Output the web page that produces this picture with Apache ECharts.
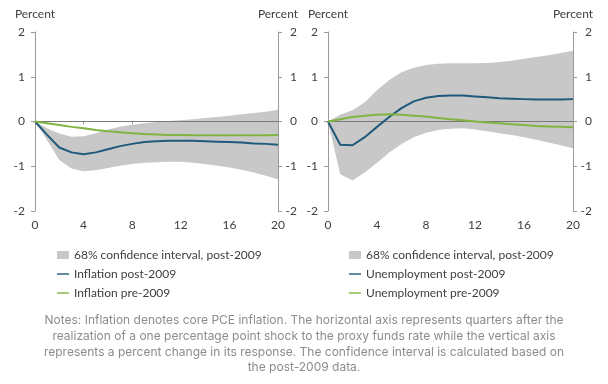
<!DOCTYPE html>
<html>
<head>
<meta charset="utf-8">
<script src="https://cdn.jsdelivr.net/npm/echarts@6/dist/echarts.min.js"></script>
<style>
html,body{margin:0;padding:0;background:#fff;}
#c{width:608px;height:384px;}
</style>
</head>
<body>
<div id="c"></div>
<script>
// Quarters after shock
var quarters = [0,1,2,3,4,5,6,7,8,9,10,11,12,13,14,15,16,17,18,19,20];
var xTicks = [0,4,8,12,16,20];
var yTicks = [-2,-1,0,1,2];

// Left panel: inflation
var infPost  = [0,-0.30,-0.58,-0.69,-0.73,-0.69,-0.62,-0.55,-0.50,-0.46,-0.44,-0.43,-0.43,-0.43,-0.44,-0.45,-0.46,-0.47,-0.49,-0.50,-0.52];
var infPre   = [0,-0.04,-0.08,-0.12,-0.15,-0.19,-0.22,-0.24,-0.26,-0.28,-0.29,-0.30,-0.30,-0.31,-0.31,-0.31,-0.31,-0.31,-0.31,-0.31,-0.30];
var infUpper = [0,-0.15,-0.27,-0.34,-0.33,-0.26,-0.18,-0.12,-0.07,-0.04,-0.01,0.01,0.03,0.05,0.08,0.10,0.13,0.16,0.19,0.22,0.26];
var infLower = [0,-0.42,-0.86,-1.05,-1.11,-1.09,-1.04,-0.99,-0.95,-0.92,-0.91,-0.90,-0.90,-0.92,-0.95,-0.99,-1.03,-1.08,-1.14,-1.21,-1.29];

// Right panel: unemployment
var unPost  = [0,-0.52,-0.53,-0.35,-0.12,0.10,0.30,0.45,0.53,0.57,0.58,0.58,0.56,0.54,0.52,0.51,0.50,0.49,0.49,0.49,0.50];
var unPre   = [0,0.05,0.10,0.13,0.15,0.16,0.15,0.13,0.11,0.08,0.05,0.03,0.00,-0.02,-0.04,-0.06,-0.08,-0.10,-0.11,-0.12,-0.13];
var unUpper = [0,0.15,0.25,0.43,0.70,0.93,1.10,1.20,1.26,1.29,1.30,1.30,1.30,1.31,1.33,1.36,1.40,1.44,1.48,1.53,1.58];
var unLower = [0,-1.18,-1.32,-1.14,-0.92,-0.69,-0.50,-0.35,-0.25,-0.19,-0.16,-0.15,-0.18,-0.22,-0.26,-0.30,-0.35,-0.41,-0.47,-0.53,-0.60];

var ciName = '68% confidence interval, post-2009';
var leftNames = [ciName, 'Inflation post-2009', 'Inflation pre-2009'];
var rightNames = [ciName, 'Unemployment post-2009', 'Unemployment pre-2009'];
var axisTitle = 'Percent';
var notes = [
  'Notes: Inflation denotes core PCE inflation. The horizontal axis represents quarters after the',
  'realization of a one percentage point shock to the proxy funds rate while the vertical axis',
  'represents a percent change in its response. The confidence interval is calculated based on',
  'the post-2009 data.'
];

var BLUE = '#1f5a7c', GREEN = '#80b441', BAND = '#c8c8c8', AXIS = '#9a9a9a', TXT = '#404040';
var FONT = 'Lato';
var LINE_ICON = 'path://M0,0 L0,0 M0,3.3 L12,3.3 L12,4.7 L0,4.7 Z M12,8 L12,8';

function pairs(ys){ return quarters.map(function(q,i){ return [q, ys[i]]; }); }
function bandData(lo, hi){ return quarters.map(function(q,i){ return [q, lo[i], hi[i]]; }); }

function xAxis(gi){
  return {
    type:'value', gridIndex:gi, min:0, max:20, interval:4,
    axisLine:{show:true, lineStyle:{color:AXIS, width:1}},
    axisTick:{show:true, length:3, lineStyle:{color:AXIS}},
    axisLabel:{color:TXT, fontFamily:FONT, fontSize:12, margin:8},
    splitLine:{show:false}
  };
}
function yAxis(gi, pos){
  var right = pos === 'right';
  return {
    type:'value', gridIndex:gi, position:pos, min:-2, max:2, interval:1,
    name:axisTitle, nameLocation:'end', nameGap:12,
    nameTextStyle:{color:TXT, fontFamily:FONT, fontSize:12, align:'center'},
    axisLine:{show:true, onZero:false, lineStyle:{color:AXIS, width:1}},
    axisTick:{show:true, length:4, lineStyle:{color:AXIS}},
    axisLabel: right ? {
      color:TXT, fontFamily:FONT, fontSize:12, margin:4,
      formatter:function(v){ return '{a|' + v + '}'; },
      rich:{a:{width:15, align:'right', color:TXT, fontFamily:FONT, fontSize:12}}
    } : {color:TXT, fontFamily:FONT, fontSize:12, margin:10},
    splitLine:{show:false}
  };
}

function bandRender(params, api){
  if (params.dataIndex !== 0) return null;
  var data = params.context.bandPts;
  var top = [], bot = [];
  for (var i = 0; i < data.length; i++){
    top.push(api.coord([data[i][0], data[i][2]]));
    bot.unshift(api.coord([data[i][0], data[i][1]]));
  }
  return {type:'polygon', shape:{points: top.concat(bot)}, style:{fill:BAND}, silent:true};
}

function panel(gi, lo, hi, post, pre, names){
  var xi = gi, yi = gi*2;
  var bd = bandData(lo, hi);
  return [
    {name:names[0], type:'custom', xAxisIndex:xi, yAxisIndex:yi, data:bd, encode:{x:0, y:[1,2]},
     renderItem:function(params, api){ params.context.bandPts = bd; return bandRender(params, api); },
     itemStyle:{color:BAND}, silent:true, z:1, clip:true},
    {name:'zero'+gi, type:'line', xAxisIndex:xi, yAxisIndex:yi, data:[[0,0],[20,0]], symbol:'none',
     lineStyle:{color:'#7a7a7a', width:1}, silent:true, z:2},
    {name:names[1], type:'line', xAxisIndex:xi, yAxisIndex:yi, data:pairs(post), symbol:'none',
     lineStyle:{color:BLUE, width:2}, itemStyle:{color:BLUE}, z:3},
    {name:names[2], type:'line', xAxisIndex:xi, yAxisIndex:yi, data:pairs(pre), symbol:'none',
     lineStyle:{color:GREEN, width:2}, itemStyle:{color:GREEN}, z:3}
  ];
}

function legend(left, names){
  return {
    orient:'vertical', left:left, top:243, itemGap:5, itemWidth:12, itemHeight:8,
    selectedMode:false,
    textStyle:{color:TXT, fontFamily:FONT, fontSize:12, lineHeight:14},
    data:[{name:names[0], icon:'rect', itemStyle:{color:BAND}},
          {name:names[1], icon:LINE_ICON, itemStyle:{color:BLUE}},
          {name:names[2], icon:LINE_ICON, itemStyle:{color:GREEN}}]
  };
}

var chart = echarts.init(document.getElementById('c'), null, {renderer:'canvas'});
chart.setOption({
  animation:false,
  backgroundColor:'#fff',
  grid:[
    {left:35, right:330, top:32, height:179},
    {left:328, right:35, top:32, height:179}
  ],
  xAxis:[xAxis(0), xAxis(1)],
  yAxis:[yAxis(0,'left'), yAxis(0,'right'), yAxis(1,'left'), yAxis(1,'right')],
  legend:[legend(52, leftNames), legend(344, rightNames)],
  series: panel(0, infLower, infUpper, infPost, infPre, leftNames)
          .concat(panel(1, unLower, unUpper, unPost, unPre, rightNames)),
  graphic:[{
    type:'text', left:'center', top:313, silent:true,
    style:{text:notes.join('\n'), fill:'#8c8c8c', font:'12px Inter', textAlign:'center', lineHeight:15.6}
  }]
});
</script>
</body>
</html>
